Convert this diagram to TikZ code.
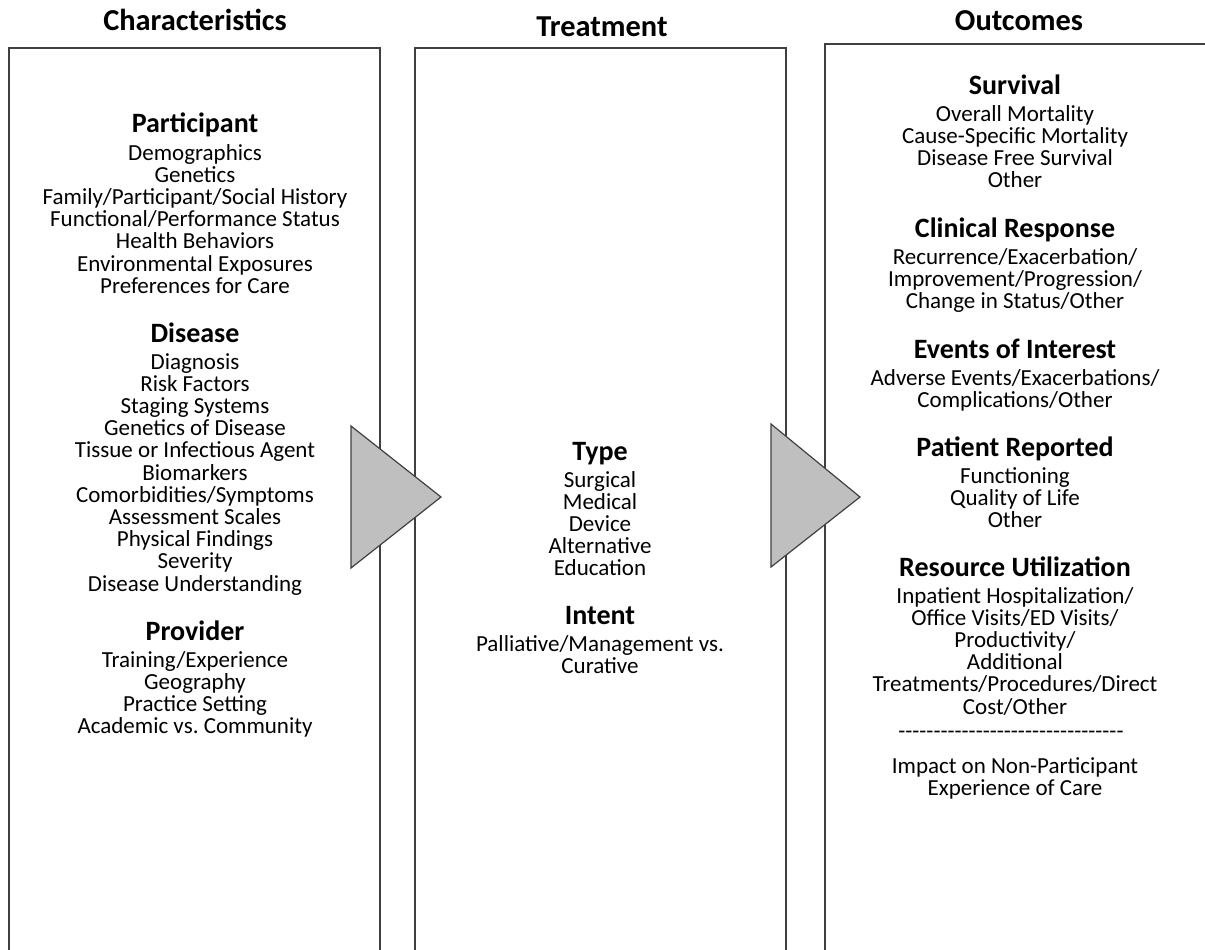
\documentclass[tikz,border=0pt]{standalone}
\usepackage{fontspec}
\setmainfont{Carlito}
\definecolor{boxline}{RGB}{64,64,64}
\definecolor{arrowfill}{RGB}{191,191,191}
\newcommand{\hy}{-\kern0pt}
\frenchspacing
\begin{document}
\begin{tikzpicture}[x=0.5pt,y=-0.5pt,
  item/.style={font=\fontsize{11.5}{13}\selectfont, anchor=base, inner sep=0pt},
  head/.style={font=\fontsize{14}{16}\selectfont\bfseries, anchor=base, inner sep=0pt},
  colhead/.style={font=\fontsize{15.2}{17}\selectfont\bfseries, anchor=base, inner sep=0pt},
  frame/.style={draw=boxline, line width=0.75pt},
  arrowtri/.style={draw=boxline, fill=arrowfill, line width=0.6pt, line join=miter}]
\useasboundingbox (0,0) rectangle (1205,949);
\begin{scope}
\clip (0,0) rectangle (1205,949);
\draw[frame] (9,960) -- (9,48) -- (380,48) -- (380,960);
\draw[frame] (415,960) -- (415,48) -- (786,48) -- (786,960);
\draw[frame] (825,960) -- (825,44) -- (1215,44);
\end{scope}
\draw[arrowtri] (351,426) -- (441,497) -- (351,568) -- cycle;
\draw[arrowtri] (771,424) -- (860,497) -- (771,567) -- cycle;

% column headers
\node[colhead] (hchar) at (195,30) {Characteristics};
\node[colhead] (htreat) at (602,36) {Treatment};
\node[colhead] (hout) at (1019,30) {Outcomes};

% Characteristics
\node[head] (participant) at (195,132) {Participant};
\foreach \t [count=\i] in {Demographics,Genetics,Family/Participant/Social History,Functional/Performance Status,Health Behaviors,Environmental Exposures,Preferences for Care}
  \node[item] (part\i) at (195,160+22.2*\i-22.2) {\t};
\node[head] (disease) at (195,342) {Disease};
\foreach \t [count=\i] in {Diagnosis,Risk Factors,Staging Systems,Genetics of Disease,Tissue or Infectious Agent,Biomarkers,Comorbidities/Symptoms,Assessment Scales,Physical Findings,Severity,Disease Understanding}
  \node[item] (dis\i) at (195,369+22.2*\i-22.2) {\t};
\node[head] (provider) at (195,640) {Provider};
\foreach \t [count=\i] in {Training/Experience,Geography,Practice Setting,Academic vs. Community}
  \node[item] (prov\i) at (195,667+22.2*\i-22.2) {\t};

% Treatment
\node[head] (type) at (600,460) {Type};
\foreach \t [count=\i] in {Surgical,Medical,Device,Alternative,Education}
  \node[item] (type\i) at (600,487+22.2*\i-22.2) {\t};
\node[head] (intent) at (600,624) {Intent};
\foreach \t [count=\i] in {Palliative/Management vs.,Curative}
  \node[item] (intent\i) at (600,651+22.2*\i-22.2) {\t};

% Outcomes
\node[head] (survival) at (1015,94) {Survival};
\foreach \t [count=\i] in {Overall Mortality,Cause-Specific Mortality,Disease Free Survival,Other}
  \node[item] (surv\i) at (1015,121+22.2*\i-22.2) {\t};
\node[head] (clinical) at (1015,237) {Clinical Response};
\foreach \t [count=\i] in {Recurrence/Exacerbation/,Improvement/Progression/,Change in Status/Other}
  \node[item] (clin\i) at (1015,264+22.2*\i-22.2) {\t};
\node[head] (events) at (1015,358) {Events of Interest};
\foreach \t [count=\i] in {Adverse Events/Exacerbations/,Complications/Other}
  \node[item] (ev\i) at (1015,385+22.2*\i-22.2) {\t};
\node[head] (patient) at (1015,456) {Patient Reported};
\foreach \t [count=\i] in {Functioning,Quality of Life,Other}
  \node[item] (pat\i) at (1015,483+22.2*\i-22.2) {\t};
\node[head] (resource) at (1015,576) {Resource Utilization};
\foreach \t [count=\i] in {Inpatient Hospitalization/,Office Visits/ED Visits/,Productivity/,Additional,Treatments/Procedures/Direct,Cost/Other}
  \node[item] (res\i) at (1015,603+22.2*\i-22.2) {\t};
\node[item] (dashes) at (1011,738) {\hy\hy\hy\hy\hy\hy\hy\hy\hy\hy\hy\hy\hy\hy\hy\hy\hy\hy\hy\hy\hy\hy\hy\hy\hy\hy\hy\hy\hy\hy\hy\hy};
\node[item] (impact) at (1015,773) {Impact on Non-Participant};
\node[item] (experience) at (1015,795) {Experience of Care};
\end{tikzpicture}
\end{document}
